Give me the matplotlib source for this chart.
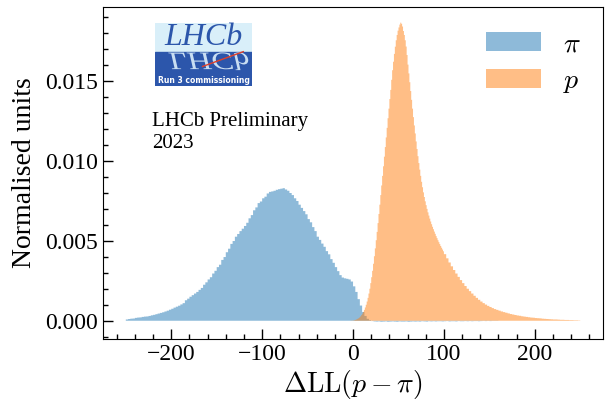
import numpy as np
import matplotlib
matplotlib.use("Agg")
import matplotlib.pyplot as plt
from matplotlib.ticker import MultipleLocator, AutoMinorLocator
from matplotlib.textpath import TextPath
from matplotlib.patches import PathPatch, Rectangle
from matplotlib.font_manager import FontProperties
from matplotlib.transforms import Affine2D

plt.rcParams['font.family'] = ['Liberation Serif', 'DejaVu Serif']
plt.rcParams['mathtext.fontset'] = 'cm'

# pion bins: -250 .. 250, width 2.5
pi_edges = np.linspace(-250, 250, 201)

# pion histogram (normalised)
pi_values = [
    0.00008, 0.00011, 0.00013, 0.00014, 0.00018, 0.00020, 0.00021, 0.00024,
    0.00026, 0.00027, 0.00030, 0.00034, 0.00037, 0.00041, 0.00045, 0.00049,
    0.00053, 0.00058, 0.00063, 0.00069, 0.00075, 0.00082, 0.00088, 0.00094,
    0.00102, 0.00110, 0.00128, 0.00138, 0.00150, 0.00160, 0.00170, 0.00180,
    0.00193, 0.00205, 0.00225, 0.00240, 0.00258, 0.00272, 0.00295, 0.00312,
    0.00335, 0.00350, 0.00380, 0.00398, 0.00428, 0.00450, 0.00480, 0.00498,
    0.00525, 0.00542, 0.00560, 0.00575, 0.00592, 0.00612, 0.00640, 0.00660,
    0.00690, 0.00708, 0.00735, 0.00745, 0.00765, 0.00775, 0.00795, 0.00805,
    0.00808, 0.00812, 0.00818, 0.00822, 0.00825, 0.00828, 0.00820, 0.00812,
    0.00798, 0.00785, 0.00765, 0.00748, 0.00725, 0.00705, 0.00685, 0.00665,
    0.00635, 0.00615, 0.00585, 0.00560, 0.00525, 0.00505, 0.00482, 0.00462,
    0.00435, 0.00415, 0.00385, 0.00362, 0.00335, 0.00310, 0.00285, 0.00270,
    0.00265, 0.00262, 0.00258, 0.00245, 0.00215, 0.00180, 0.00135, 0.00095,
    0.00055, 0.00030, 0.00012, 0.00004, -0.00002, -0.00004,
    -0.00005, -0.00004, -0.00006, -0.00005, -0.00004, -0.00006, -0.00005, -0.00004,
    -0.00005, -0.00006, -0.00004, -0.00005, -0.00005, -0.00004, -0.00006, -0.00005,
    -0.00004, -0.00005, -0.00004, -0.00005, -0.00003, -0.00004, -0.00005, -0.00003,
    -0.00004, -0.00003, -0.00004, -0.00003, -0.00003, -0.00004, -0.00003, -0.00002,
    -0.00004, -0.00003, -0.00003, -0.00004, -0.00002, -0.00003, -0.00003, -0.00002,
    -0.00003, -0.00002, -0.00003, -0.00002, -0.00002, -0.00003, -0.00002, -0.00001,
    -0.00002, -0.00001, -0.00002, -0.00001, -0.00001, -0.00001,
    0, 0, 0, 0, 0, 0, 0, 0, 0, 0, 0, 0, 0, 0, 0, 0, 0, 0,
    0, 0, 0, 0, 0, 0, 0, 0, 0, 0, 0, 0, 0, 0, 0, 0, 0, 0,
]

# proton bins: width 2.5, finer (width 1) across the peak 0 .. 100
p_edges = np.concatenate([np.arange(-250, 0, 2.5), np.arange(0, 100, 1.0),
                          np.arange(100, 250.1, 2.5)])

# proton histogram (normalised)
p_values = [0.0] * 99 + [0.00001] + [
    # 0 .. 100, width 1
    0.00002, 0.00003, 0.00005, 0.00007, 0.00010, 0.00013, 0.00017, 0.00022,
    0.00028, 0.00036, 0.00045, 0.00055, 0.00068, 0.00083, 0.00100, 0.00120,
    0.00143, 0.00170, 0.00200, 0.00235, 0.00272, 0.00312, 0.00356, 0.00403,
    0.00452, 0.00503, 0.00555, 0.00610, 0.00667, 0.00725, 0.00785, 0.00845,
    0.00905, 0.00965, 0.01025, 0.01085, 0.01145, 0.01205, 0.01265, 0.01325,
    0.01385, 0.01442, 0.01505, 0.01565, 0.01618, 0.01667, 0.01712, 0.01752,
    0.01785, 0.01812, 0.01832, 0.01850, 0.01862, 0.01855, 0.01838, 0.01810,
    0.01785, 0.01752, 0.01713, 0.01660, 0.01600, 0.01545, 0.01490, 0.01435,
    0.01380, 0.01325, 0.01272, 0.01220, 0.01170, 0.01120, 0.01073, 0.01028,
    0.00985, 0.00944, 0.00905, 0.00868, 0.00834, 0.00802, 0.00773, 0.00746,
    0.00722, 0.00699, 0.00677, 0.00657, 0.00638, 0.00620, 0.00603, 0.00587,
    0.00572, 0.00557, 0.00543, 0.00529, 0.00516, 0.00503, 0.00491, 0.00479,
    0.00467, 0.00456, 0.00445, 0.00434,
] + [
    # 100 .. 250, width 2.5
    0.00416, 0.00390, 0.00364, 0.00340, 0.00317, 0.00295, 0.00274,
    0.00254, 0.00235, 0.00217, 0.00200, 0.00185, 0.00170, 0.00156, 0.00143,
    0.00131, 0.00120, 0.00110, 0.00101, 0.00093, 0.00086, 0.00079, 0.00073,
    0.00068, 0.00063, 0.00058, 0.00054, 0.00050, 0.00046, 0.00042, 0.00039,
    0.00036, 0.00033, 0.00031, 0.00028, 0.00026, 0.00024, 0.00022, 0.00020,
    0.00019, 0.00017, 0.00016, 0.00015, 0.00013, 0.00012, 0.00011, 0.00010,
    0.00009, 0.00008, 0.00008, 0.00007, 0.00006, 0.00006, 0.00005, 0.00005,
    0.00004, 0.00004, 0.00003, 0.00003, 0.00002,
]

fig = plt.figure(figsize=(6.1, 4.01), dpi=100)
ax = fig.add_axes([0.169, 0.1546, 0.8195, 0.828])

for edges, vals, col, lab in [(pi_edges, pi_values, 'tab:blue', r'$\pi$'),
                              (p_edges, p_values, 'tab:orange', r'$p$')]:
    ax.hist(edges[:-1], bins=edges, weights=vals, histtype='stepfilled',
            color=col, alpha=0.5, linewidth=0, snap=False, label=lab)

ax.set_xlim(-275, 275)
ax.set_ylim(-0.00114, 0.0196)
ax.xaxis.set_major_locator(MultipleLocator(100))
ax.xaxis.set_minor_locator(AutoMinorLocator(5))
ax.yaxis.set_major_locator(MultipleLocator(0.005))
ax.yaxis.set_minor_locator(AutoMinorLocator(5))
ax.tick_params(which='both', direction='in', labelsize=17)
ax.tick_params(which='major', length=7, width=1)
ax.tick_params(which='minor', length=3.5, width=1)
ax.yaxis.set_major_formatter(matplotlib.ticker.FormatStrFormatter('%.3f'))

ax.set_xlabel(r'$\Delta\mathrm{LL}(p-\pi)$', fontsize=20, labelpad=2)
ax.set_ylabel('Normalised units', fontsize=20, labelpad=6)

ax.legend(loc='upper right', bbox_to_anchor=(1.012, 1.009), frameon=False,
          fontsize=20, handlelength=2.0, handleheight=0.7, borderaxespad=0.6,
          handletextpad=0.8, labelspacing=0.42)

ax.text(0.098, 0.685, 'LHCb Preliminary\n2023', transform=ax.transAxes,
        fontsize=15, va='top', ha='left', linespacing=1.25)

# LHCb logo
lax = fig.add_axes([155 / 610, 1 - 86 / 401, 97 / 610, 63 / 401])
lax.set_xlim(0, 1)
lax.set_ylim(0, 1)
lax.axis('off')
lax.add_patch(Rectangle((0, 0.54), 1, 0.46, color='#d9eff9'))
lax.add_patch(Rectangle((0, 0), 1, 0.54, color='#2c56ab'))
lax.text(0.5, 0.54, 'LHCb', fontsize=23, style='italic', color='#2c56ab',
         ha='center', va='bottom', family='Liberation Serif')
tp = TextPath((0, 0), 'LHCb', size=1,
              prop=FontProperties(family='Liberation Serif', style='italic'))
tr = Affine2D().scale(0.34, -0.40).translate(0.14, 0.53)
lax.add_patch(PathPatch(tr.transform_path(tp), color='#c9def2', lw=0))
lax.plot([0.49, 0.91], [0.31, 0.545], color='#e0402a', lw=1)
lax.text(0.5, 0.08, 'Run 3 commissioning', fontsize=5.5, weight='bold',
         color='white', ha='center', va='center', family='DejaVu Sans')

fig.savefig('out.png', dpi=100)
